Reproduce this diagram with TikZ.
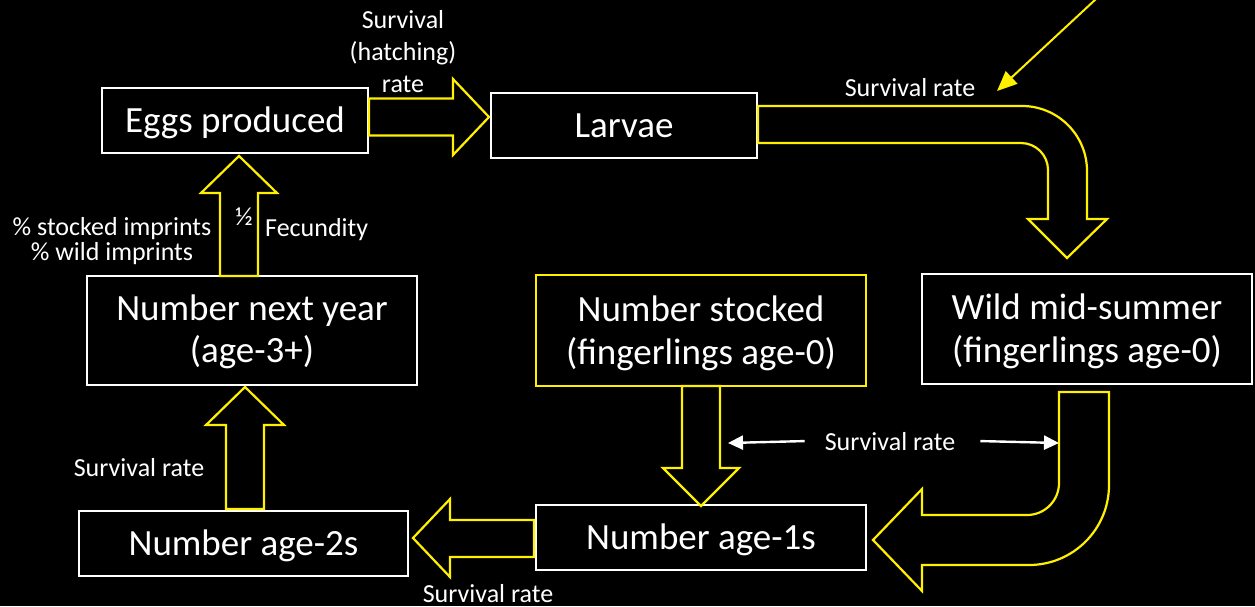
\documentclass[tikz,border=0pt]{standalone}
\usepackage{fontspec}
\setmainfont{Carlito}
\usetikzlibrary{arrows.meta,calc}
\definecolor{arrowyellow}{RGB}{255,240,0}
\tikzset{
  box/.style={draw=white, line width=1.6pt, fill=black, text=white, align=center,
    inner sep=0pt, font=\fontsize{37}{43}\selectfont},
  onebox/.style={box, text height=30pt, text depth=7pt},
  twobox/.style={box, text height=73pt, text depth=6pt},
  lbl/.style={text=white, inner sep=0pt, align=center, font=\fontsize{26}{32}\selectfont},
  blockarrow/.style={draw=arrowyellow, line width=2.2pt, fill=black, line join=miter},
  thinarrow/.style={white, line width=2.4pt, -{Triangle[length=15pt,width=14pt]}},
}
\begin{document}
\begin{tikzpicture}[x=1pt,y=-1pt]
\fill[black] (0,0) rectangle (1255,606);
\useasboundingbox (0,0) rectangle (1255,606);

% boxes
\node[onebox, minimum width=266pt, minimum height=65pt] (eggs) at (235,120.5) {Eggs produced};
\node[onebox, minimum width=266pt, minimum height=65pt] (larvae) at (624,125.5) {Larvae};
\node[box, font=\fontsize{37}{42}\selectfont, text height=72pt, text depth=9pt, minimum width=330pt, minimum height=109pt] (nextyear) at (252,330.5) {Number next year\\(age-3+)};
\node[twobox, draw=arrowyellow, minimum width=330pt, minimum height=111pt] (stocked) at (701,330.5) {Number stocked\\(fingerlings age-0)};
\node[twobox, minimum width=330pt, minimum height=110pt] (wild) at (1087,329) {Wild mid-summer\\(fingerlings age-0)};
\node[onebox, minimum width=330pt, minimum height=65pt] (age1) at (701,537.5) {Number age-1s};
\node[onebox, minimum width=329pt, minimum height=65pt] (age2) at (243.5,543.5) {Number age-2s};

% straight block arrows
% eggs -> larvae
\draw[blockarrow] (369,98.5) -- (453,98.5) -- (453,79) -- (489,117) -- (453,155) -- (453,135.5) -- (369,135.5) -- cycle;
% next year -> eggs
\draw[blockarrow] (220,276) -- (220,193) -- (201,193) -- (239,156) -- (277,193) -- (258,193) -- (258,276) -- cycle;
% age-2s -> next year
\draw[blockarrow] (226,509) -- (226,425) -- (206,425) -- (245,387) -- (284,425) -- (264,425) -- (264,509) -- cycle;
% age-1s -> age-2s
\draw[blockarrow] (534,520) -- (450,520) -- (450,499) -- (413,538) -- (450,577) -- (450,557) -- (534,557) -- cycle;
% stocked -> age-1s
\draw[blockarrow] (682,386) -- (682,468) -- (663,468) -- (701,506) -- (739,468) -- (720,468) -- (720,386) -- cycle;

% bent arrow larvae -> wild
\draw[blockarrow] (758,106) -- (1022,106) .. controls (1057.9,106) and (1087,135.1) .. (1087,171)
  -- (1087,219) -- (1107,219) -- (1067,258) -- (1028,219) -- (1048,219) -- (1048,170)
  .. controls (1048,155.1) and (1035.9,143) .. (1021,143) -- (758,143) -- cycle;

% bent arrow wild -> age-1s
\draw[blockarrow] (1059,392) -- (1059,483) .. controls (1059,500.7) and (1044.7,515) .. (1027,515)
  -- (922,515) -- (922,489) -- (873,540) -- (922,591) -- (922,565) -- (1029,565)
  .. controls (1073.2,565) and (1109,529.2) .. (1109,485) -- (1109,392) -- cycle;

% labels
\node[lbl, anchor=base] (lhatch) at (403,92) {Survival\\(hatching)\\rate};
\node[lbl, anchor=base] (lsurvtop) at (910,96) {Survival rate};
\node[lbl, anchor=base, font=\fontsize{26}{26}\selectfont] (lhalf) at (244,225) {½};
\node[lbl, anchor=base west] (lfec) at (265,236) {Fecundity};
\node[lbl, anchor=base, font=\fontsize{26}{25}\selectfont] (limprint) at (112,260) {\% stocked imprints\\\% wild imprints};
\node[lbl, anchor=base] (lsurv2) at (139,476) {Survival rate};
\node[lbl, anchor=base] (lsurv1) at (488,602) {Survival rate};
\node[lbl, anchor=base] (lsurvmid) at (890,450) {Survival rate};

% white arrows from middle label
\coordinate (midL) at (728,443);
\coordinate (midR) at (1059,443);
\draw[thinarrow] ($(lsurvmid.west)+(-20,0)$) -- (midL);
\draw[thinarrow] ($(lsurvmid.east)+(25,0)$) -- (midR);

% yellow pointer arrow
\coordinate (ptrsrc) at (1096,-1);
\coordinate (ptrtgt) at (997,91);
\draw[arrowyellow, line width=2pt, -{Triangle[length=20pt,width=17pt]}] (ptrsrc) -- (ptrtgt);
\end{tikzpicture}
\end{document}
